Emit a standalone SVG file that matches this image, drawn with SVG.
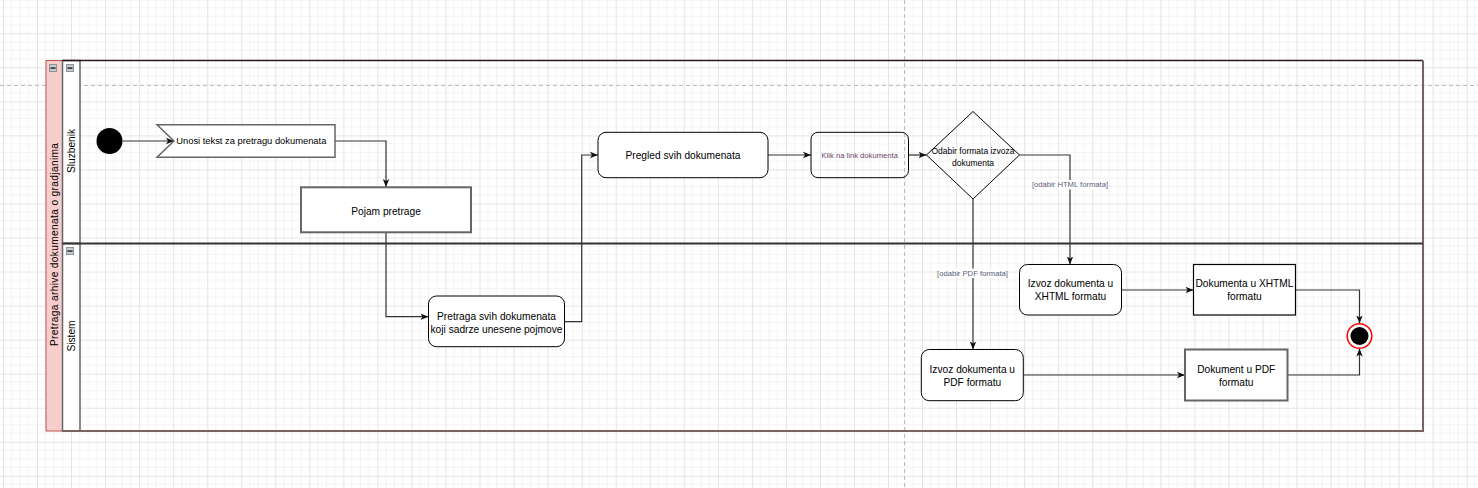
<svg xmlns="http://www.w3.org/2000/svg" width="1478" height="488" viewBox="0 0 1478 488">
<defs>
<style>
.t{font-family:"Liberation Sans",Arial,sans-serif;fill:#000;text-anchor:middle}
.f10{font-size:10.2px}
.f9{font-size:9.35px}
.f8{font-size:8.5px}
.lbl{font-family:"Liberation Sans",Arial,sans-serif;font-size:7.65px;fill:#56607a;text-anchor:middle}
.edge{fill:none;stroke:#333;stroke-width:1.2}
.act{fill:#fff;stroke:#000;stroke-width:1}
.obj{fill:#fff;stroke:#666;stroke-width:2}
.btn{fill:#c5c9d0;stroke:#8e939b;stroke-width:1}
</style>
<pattern id="grid" x="3" y="-0.74" width="34.04" height="34.04" patternUnits="userSpaceOnUse">
<path d="M8.51,0V34.04M17.02,0V34.04M25.53,0V34.04M0,8.51H34.04M0,17.02H34.04M0,25.53H34.04" stroke="#f3f3f3" stroke-width="1" fill="none"/>
<path d="M0.5,0V34.04M0,0.5H34.04" stroke="#e4e4e4" stroke-width="1" fill="none"/>
</pattern>
<marker id="arr" viewBox="0 0 10 10" refX="10" refY="5" markerWidth="8" markerHeight="8" markerUnits="userSpaceOnUse" orient="auto">
<path d="M0,1 L10,5 L0,9 L2.5,5 z" fill="#111"/>
</marker>
</defs>
<rect width="1478" height="488" fill="#fff"/>
<rect width="1478" height="488" fill="url(#grid)"/>
<g id="pagebreaks" stroke="#bdbdbd" stroke-width="1" stroke-dasharray="4,3" fill="none">
<path d="M0,85.5H1478"/>
<path d="M904.5,0V488"/>
</g>
<g id="pool">
<rect x="46" y="60.5" width="16.5" height="370.5" fill="#f8cecc" stroke="#b85450" stroke-width="1"/>
<rect x="62.5" y="60.5" width="17.5" height="183" fill="#fff" stroke="#666" stroke-width="1.5"/>
<rect x="62.5" y="243.5" width="17.5" height="187.5" fill="#fff" stroke="#666" stroke-width="1.5"/>
<path d="M62.5,60.5H1423" stroke="#2a1a1a" stroke-width="1.5" fill="none"/>
<path d="M1423,60.5V431H62.5" stroke="#7a6262" stroke-width="2" fill="none"/>
<path d="M62.5,243.5H1423" stroke="#333" stroke-width="2" fill="none"/>
<rect class="btn" x="49.5" y="64.5" width="7" height="7"/>
<rect x="50.5" y="67.3" width="5" height="1.6" fill="#333"/>
<rect class="btn" x="66.5" y="64.5" width="7" height="7"/>
<rect x="67.5" y="67.3" width="5" height="1.6" fill="#333"/>
<rect class="btn" x="66.5" y="247.5" width="7" height="7"/>
<rect x="67.5" y="250.3" width="5" height="1.6" fill="#333"/>
<text class="t" style="font-size:10.2px" transform="translate(57.6,244.5) rotate(-90)" textLength="203" lengthAdjust="spacing">Pretraga arhive dokumenata o gradjanima</text>
<text class="t f10" transform="translate(74.6,151) rotate(-90)">Sluzbenik</text>
<text class="t f10" transform="translate(74.6,336) rotate(-90)">Sistem</text>
</g>
<g id="connectors">
<path class="edge" d="M122.5,141H174" marker-end="url(#arr)"/>
<path class="edge" d="M335,141H386V187" marker-end="url(#arr)"/>
<path class="edge" d="M386,232.5V316.7H428.5" marker-end="url(#arr)"/>
<path class="edge" d="M564.5,321.7H581.7V155H598" marker-end="url(#arr)"/>
<path class="edge" d="M768,155H811" marker-end="url(#arr)"/>
<path class="edge" d="M908.5,155H926.5" marker-end="url(#arr)"/>
<path class="edge" d="M1019.5,155H1070V264.5" marker-end="url(#arr)"/>
<path class="edge" d="M973,199V349.5" marker-end="url(#arr)"/>
<path class="edge" d="M1121.5,290H1193.5" marker-end="url(#arr)"/>
<path class="edge" d="M1295.5,290H1359.5V323.5" marker-end="url(#arr)"/>
<path class="edge" d="M1023.5,375H1185" marker-end="url(#arr)"/>
<path class="edge" d="M1287.5,375H1359.5V348.5" marker-end="url(#arr)"/>
<rect x="1031.5" y="180" width="77" height="9.5" fill="#fff"/>
<text class="lbl" x="1070" y="187.3">[odabir HTML formata]</text>
<rect x="937" y="268.5" width="71" height="9.5" fill="#fff"/>
<text class="lbl" x="972.5" y="275.8">[odabir PDF formata]</text>
</g>
<g id="start">
<circle cx="109.5" cy="141" r="13" fill="#000"/>
</g>
<g id="unosi">
<polygon points="157,124.7 335,124.7 335,157.3 157,157.3 174,141" fill="#fff" stroke="#666" stroke-width="1.5"/>
<text class="t f9" x="251.3" y="144.4">Unosi tekst za pretragu dokumenata</text>
</g>
<g id="pojam">
<rect class="obj" x="301" y="187.3" width="170" height="45"/>
<text class="t f10" x="386" y="214.6">Pojam pretrage</text>
</g>
<g id="pretraga">
<rect class="act" x="428.5" y="296" width="136" height="50.7" rx="8"/>
<text class="t f10" x="496.5" y="319.6">Pretraga svih dokumenata</text>
<text class="t f10" x="496.5" y="332.6">koji sadrze unesene pojmove</text>
</g>
<g id="pregled">
<rect class="act" x="598" y="132.3" width="170" height="45.4" rx="8"/>
<text class="t f10" x="683" y="158.6">Pregled svih dokumenata</text>
</g>
<g id="klik">
<rect x="811" y="132.3" width="97.5" height="45.4" rx="7" fill="none" stroke="#000" stroke-width="1"/>
<text class="lbl" style="fill:#6a4566" x="859.7" y="157.7">Klik na link dokumenta</text>
</g>
<g id="odabir">
<polygon points="926.5,155 973,111.5 1019.5,155 973,199" fill="none" stroke="#000" stroke-width="1"/>
<text class="t f8" x="973" y="153.7">Odabir formata izvoza</text>
<text class="t f8" x="973" y="165.7">dokumenta</text>
</g>
<g id="izvoz-xhtml">
<rect class="act" x="1019.5" y="264.5" width="102" height="50.5" rx="8"/>
<text class="t f10" x="1070.5" y="287.3">Izvoz dokumenta u</text>
<text class="t f10" x="1070.5" y="300.3">XHTML formatu</text>
</g>
<g id="dok-xhtml">
<rect x="1193.5" y="264.5" width="102" height="50.5" fill="#fff" stroke="#000" stroke-width="1.2"/>
<text class="t f10" x="1244.5" y="287.3">Dokumenta u XHTML</text>
<text class="t f10" x="1244.5" y="300.3">formatu</text>
</g>
<g id="izvoz-pdf">
<rect class="act" x="921.3" y="349.5" width="102" height="51.2" rx="8"/>
<text class="t f10" x="972.3" y="373">Izvoz dokumenta u</text>
<text class="t f10" x="972.3" y="385.5">PDF formatu</text>
</g>
<g id="dok-pdf">
<rect class="obj" x="1185" y="349.5" width="102.5" height="51"/>
<text class="t f10" x="1236.2" y="373">Dokument u PDF</text>
<text class="t f10" x="1236.2" y="385.5">formatu</text>
</g>
<g id="end">
<circle cx="1359.5" cy="336" r="12.3" fill="#fff" stroke="#ff0000" stroke-width="1.5"/>
<circle cx="1359.5" cy="336" r="9" fill="#000"/>
</g>
</svg>
